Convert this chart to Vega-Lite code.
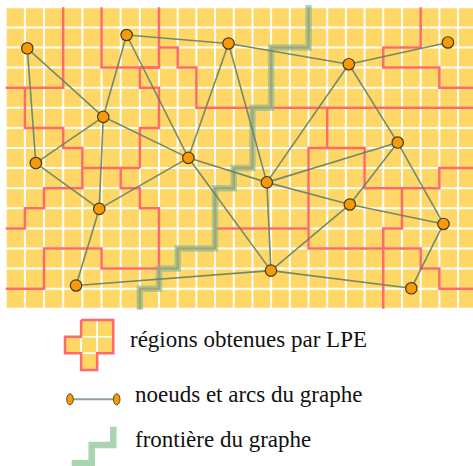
{
  "$schema": "https://vega.github.io/schema/vega-lite/v6.json",
  "width": 473,
  "height": 466,
  "autosize": {"type": "none"},
  "padding": 0,
  "background": "white",
  "config": {"view": {"stroke": null}},
  "datasets": {
    "bg": [{"x": 0, "x2": 24.8, "y": 0, "y2": 15}],
    "grid": [
      {"x": 0, "x2": 0, "y": 0, "y2": 15}, {"x": 1, "x2": 1, "y": 0, "y2": 15}, {"x": 2, "x2": 2, "y": 0, "y2": 15},
      {"x": 3, "x2": 3, "y": 0, "y2": 15}, {"x": 4, "x2": 4, "y": 0, "y2": 15}, {"x": 5, "x2": 5, "y": 0, "y2": 15},
      {"x": 6, "x2": 6, "y": 0, "y2": 15}, {"x": 7, "x2": 7, "y": 0, "y2": 15}, {"x": 8, "x2": 8, "y": 0, "y2": 15},
      {"x": 9, "x2": 9, "y": 0, "y2": 15}, {"x": 10, "x2": 10, "y": 0, "y2": 15}, {"x": 11, "x2": 11, "y": 0, "y2": 15},
      {"x": 12, "x2": 12, "y": 0, "y2": 15}, {"x": 13, "x2": 13, "y": 0, "y2": 15}, {"x": 14, "x2": 14, "y": 0, "y2": 15},
      {"x": 15, "x2": 15, "y": 0, "y2": 15}, {"x": 16, "x2": 16, "y": 0, "y2": 15}, {"x": 17, "x2": 17, "y": 0, "y2": 15},
      {"x": 18, "x2": 18, "y": 0, "y2": 15}, {"x": 19, "x2": 19, "y": 0, "y2": 15}, {"x": 20, "x2": 20, "y": 0, "y2": 15},
      {"x": 21, "x2": 21, "y": 0, "y2": 15}, {"x": 22, "x2": 22, "y": 0, "y2": 15}, {"x": 23, "x2": 23, "y": 0, "y2": 15},
      {"x": 24, "x2": 24, "y": 0, "y2": 15},
      {"x": 0, "x2": 24.8, "y": 0, "y2": 0}, {"x": 0, "x2": 24.8, "y": 1, "y2": 1}, {"x": 0, "x2": 24.8, "y": 2, "y2": 2},
      {"x": 0, "x2": 24.8, "y": 3, "y2": 3}, {"x": 0, "x2": 24.8, "y": 4, "y2": 4}, {"x": 0, "x2": 24.8, "y": 5, "y2": 5},
      {"x": 0, "x2": 24.8, "y": 6, "y2": 6}, {"x": 0, "x2": 24.8, "y": 7, "y2": 7}, {"x": 0, "x2": 24.8, "y": 8, "y2": 8},
      {"x": 0, "x2": 24.8, "y": 9, "y2": 9}, {"x": 0, "x2": 24.8, "y": 10, "y2": 10}, {"x": 0, "x2": 24.8, "y": 11, "y2": 11},
      {"x": 0, "x2": 24.8, "y": 12, "y2": 12}, {"x": 0, "x2": 24.8, "y": 13, "y2": 13}, {"x": 0, "x2": 24.8, "y": 14, "y2": 14},
      {"x": 0, "x2": 24.8, "y": 15, "y2": 15}
    ],
    "lcells": [
      {"x": 3.933, "x2": 4.774, "y": 15.557, "y2": 16.388},
      {"x": 4.774, "x2": 5.614, "y": 15.557, "y2": 16.388},
      {"x": 3.093, "x2": 3.933, "y": 16.388, "y2": 17.214},
      {"x": 3.933, "x2": 4.774, "y": 16.388, "y2": 17.214},
      {"x": 4.774, "x2": 5.614, "y": 16.388, "y2": 17.214},
      {"x": 3.933, "x2": 4.774, "y": 17.214, "y2": 18.045}
    ],
    "red": [
      {"id": "p1", "o": 0, "x": 0, "y": 4}, {"id": "p1", "o": 1, "x": 3, "y": 4}, {"id": "p1", "o": 2, "x": 3, "y": 0},
      {"id": "p2", "o": 0, "x": 1, "y": 4}, {"id": "p2", "o": 1, "x": 1, "y": 6}, {"id": "p2", "o": 2, "x": 3, "y": 6},
      {"id": "p2", "o": 3, "x": 3, "y": 7}, {"id": "p2", "o": 4, "x": 4, "y": 7}, {"id": "p2", "o": 5, "x": 4, "y": 9},
      {"id": "p2", "o": 6, "x": 2, "y": 9}, {"id": "p2", "o": 7, "x": 2, "y": 10}, {"id": "p2", "o": 8, "x": 1, "y": 10},
      {"id": "p2", "o": 9, "x": 1, "y": 11}, {"id": "p2", "o": 10, "x": 0, "y": 11},
      {"id": "p3", "o": 0, "x": 4, "y": 8}, {"id": "p3", "o": 1, "x": 7, "y": 8},
      {"id": "p4", "o": 0, "x": 5, "y": 0}, {"id": "p4", "o": 1, "x": 5, "y": 3}, {"id": "p4", "o": 2, "x": 8, "y": 3},
      {"id": "p5", "o": 0, "x": 8, "y": 0}, {"id": "p5", "o": 1, "x": 8, "y": 2}, {"id": "p5", "o": 2, "x": 9, "y": 2},
      {"id": "p5", "o": 3, "x": 9, "y": 3}, {"id": "p5", "o": 4, "x": 10, "y": 3}, {"id": "p5", "o": 5, "x": 10, "y": 5},
      {"id": "p5", "o": 6, "x": 24.8, "y": 5},
      {"id": "p6", "o": 0, "x": 8, "y": 2}, {"id": "p6", "o": 1, "x": 8, "y": 3}, {"id": "p6", "o": 2, "x": 7, "y": 3},
      {"id": "p6", "o": 3, "x": 7, "y": 4}, {"id": "p6", "o": 4, "x": 8, "y": 4}, {"id": "p6", "o": 5, "x": 8, "y": 6},
      {"id": "p6", "o": 6, "x": 7, "y": 6}, {"id": "p6", "o": 7, "x": 7, "y": 8},
      {"id": "p7", "o": 0, "x": 6, "y": 8}, {"id": "p7", "o": 1, "x": 6, "y": 9}, {"id": "p7", "o": 2, "x": 7, "y": 9},
      {"id": "p7", "o": 3, "x": 7, "y": 10}, {"id": "p7", "o": 4, "x": 8, "y": 10}, {"id": "p7", "o": 5, "x": 8, "y": 13},
      {"id": "p7", "o": 6, "x": 5, "y": 13}, {"id": "p7", "o": 7, "x": 5, "y": 12}, {"id": "p7", "o": 8, "x": 2, "y": 12},
      {"id": "p7", "o": 9, "x": 2, "y": 14}, {"id": "p7", "o": 10, "x": 0, "y": 14},
      {"id": "p8", "o": 0, "x": 16, "y": 0}, {"id": "p8", "o": 1, "x": 16, "y": 2}, {"id": "p8", "o": 2, "x": 14, "y": 2},
      {"id": "p8", "o": 3, "x": 14, "y": 5}, {"id": "p8", "o": 4, "x": 13, "y": 5}, {"id": "p8", "o": 5, "x": 13, "y": 8},
      {"id": "p8", "o": 6, "x": 12, "y": 8}, {"id": "p8", "o": 7, "x": 12, "y": 9}, {"id": "p8", "o": 8, "x": 11, "y": 9},
      {"id": "p8", "o": 9, "x": 11, "y": 12}, {"id": "p8", "o": 10, "x": 9, "y": 12}, {"id": "p8", "o": 11, "x": 9, "y": 13},
      {"id": "p8", "o": 12, "x": 8, "y": 13}, {"id": "p8", "o": 13, "x": 8, "y": 14}, {"id": "p8", "o": 14, "x": 7, "y": 14},
      {"id": "p8", "o": 15, "x": 7, "y": 15},
      {"id": "p9", "o": 0, "x": 11, "y": 11}, {"id": "p9", "o": 1, "x": 16, "y": 11},
      {"id": "p10", "o": 0, "x": 17, "y": 5}, {"id": "p10", "o": 1, "x": 17, "y": 7}, {"id": "p10", "o": 2, "x": 16, "y": 7},
      {"id": "p10", "o": 3, "x": 16, "y": 12}, {"id": "p10", "o": 4, "x": 22, "y": 12}, {"id": "p10", "o": 5, "x": 22, "y": 13},
      {"id": "p10", "o": 6, "x": 23, "y": 13}, {"id": "p10", "o": 7, "x": 23, "y": 14}, {"id": "p10", "o": 8, "x": 24.8, "y": 14},
      {"id": "p11", "o": 0, "x": 17, "y": 7}, {"id": "p11", "o": 1, "x": 19, "y": 7}, {"id": "p11", "o": 2, "x": 19, "y": 9},
      {"id": "p11", "o": 3, "x": 23, "y": 9}, {"id": "p11", "o": 4, "x": 23, "y": 8}, {"id": "p11", "o": 5, "x": 24.8, "y": 8},
      {"id": "p12", "o": 0, "x": 21, "y": 9}, {"id": "p12", "o": 1, "x": 21, "y": 11}, {"id": "p12", "o": 2, "x": 20, "y": 11},
      {"id": "p12", "o": 3, "x": 20, "y": 15},
      {"id": "p13", "o": 0, "x": 22, "y": 0}, {"id": "p13", "o": 1, "x": 22, "y": 2}, {"id": "p13", "o": 2, "x": 20, "y": 2},
      {"id": "p13", "o": 3, "x": 20, "y": 3}, {"id": "p13", "o": 4, "x": 23, "y": 3}, {"id": "p13", "o": 5, "x": 23, "y": 4},
      {"id": "p13", "o": 6, "x": 24.8, "y": 4},
      {"id": "lg", "o": 0, "x": 3.933, "y": 15.557}, {"id": "lg", "o": 1, "x": 5.614, "y": 15.557},
      {"id": "lg", "o": 2, "x": 5.614, "y": 17.214}, {"id": "lg", "o": 3, "x": 4.774, "y": 17.214},
      {"id": "lg", "o": 4, "x": 4.774, "y": 18.045}, {"id": "lg", "o": 5, "x": 3.933, "y": 18.045},
      {"id": "lg", "o": 6, "x": 3.933, "y": 17.214}, {"id": "lg", "o": 7, "x": 3.093, "y": 17.214},
      {"id": "lg", "o": 8, "x": 3.093, "y": 16.388}, {"id": "lg", "o": 9, "x": 3.933, "y": 16.388},
      {"id": "lg", "o": 10, "x": 3.933, "y": 15.557}
    ],
    "green": [
      {"id": "f", "o": 0, "x": 16, "y": -0.12}, {"id": "f", "o": 1, "x": 16, "y": 2}, {"id": "f", "o": 2, "x": 14, "y": 2},
      {"id": "f", "o": 3, "x": 14, "y": 5}, {"id": "f", "o": 4, "x": 13, "y": 5}, {"id": "f", "o": 5, "x": 13, "y": 8},
      {"id": "f", "o": 6, "x": 12, "y": 8}, {"id": "f", "o": 7, "x": 12, "y": 9}, {"id": "f", "o": 8, "x": 11, "y": 9},
      {"id": "f", "o": 9, "x": 11, "y": 12}, {"id": "f", "o": 10, "x": 9, "y": 12}, {"id": "f", "o": 11, "x": 9, "y": 13},
      {"id": "f", "o": 12, "x": 8, "y": 13}, {"id": "f", "o": 13, "x": 8, "y": 14}, {"id": "f", "o": 14, "x": 7, "y": 14},
      {"id": "f", "o": 15, "x": 7, "y": 15.05},
      {"id": "lf", "o": 0, "x": 5.614, "y": 20.866}, {"id": "lf", "o": 1, "x": 5.614, "y": 21.776},
      {"id": "lf", "o": 2, "x": 4.487, "y": 21.776}, {"id": "lf", "o": 3, "x": 4.487, "y": 22.687},
      {"id": "lf", "o": 4, "x": 3.443, "y": 22.687}
    ],
    "nodes": [
      {"id": "N1", "x": 1.125, "y": 2.04}, {"id": "N2", "x": 6.31, "y": 1.378}, {"id": "N3", "x": 11.72, "y": 1.8},
      {"id": "N4", "x": 18.155, "y": 2.83}, {"id": "N5", "x": 23.46, "y": 1.75}, {"id": "N6", "x": 5.09, "y": 5.45},
      {"id": "N7", "x": 1.57, "y": 7.75}, {"id": "N8", "x": 9.57, "y": 7.49}, {"id": "N9", "x": 13.77, "y": 8.71},
      {"id": "N10", "x": 20.77, "y": 6.73}, {"id": "N11", "x": 4.88, "y": 10.03}, {"id": "N12", "x": 18.21, "y": 9.81},
      {"id": "N13", "x": 23.22, "y": 10.78}, {"id": "N14", "x": 13.99, "y": 13.1}, {"id": "N15", "x": 3.67, "y": 13.84},
      {"id": "N16", "x": 21.5, "y": 13.98}
    ],
    "edges": [
      {"a": "N1", "b": "N6"}, {"a": "N1", "b": "N7"}, {"a": "N2", "b": "N6"}, {"a": "N2", "b": "N8"},
      {"a": "N2", "b": "N3"}, {"a": "N3", "b": "N4"}, {"a": "N3", "b": "N8"}, {"a": "N3", "b": "N9"},
      {"a": "N4", "b": "N5"}, {"a": "N4", "b": "N9"}, {"a": "N4", "b": "N10"}, {"a": "N6", "b": "N7"},
      {"a": "N6", "b": "N8"}, {"a": "N6", "b": "N11"}, {"a": "N7", "b": "N11"}, {"a": "N8", "b": "N11"},
      {"a": "N8", "b": "N9"}, {"a": "N8", "b": "N14"}, {"a": "N9", "b": "N14"}, {"a": "N9", "b": "N10"},
      {"a": "N9", "b": "N12"}, {"a": "N10", "b": "N12"}, {"a": "N10", "b": "N13"}, {"a": "N12", "b": "N13"},
      {"a": "N12", "b": "N14"}, {"a": "N13", "b": "N16"}, {"a": "N14", "b": "N16"}, {"a": "N14", "b": "N15"},
      {"a": "N11", "b": "N15"}
    ],
    "legline": [{"o": 0, "x": 3.354, "y": 19.502}, {"o": 1, "x": 5.792, "y": 19.502}],
    "texts": [
      {"t": "régions obtenues par LPE", "x": 6.486, "y": 16.886},
      {"t": "noeuds et arcs du graphe", "x": 6.747, "y": 19.622},
      {"t": "frontière du graphe", "x": 6.747, "y": 21.891}
    ]
  },
  "encoding": {
    "x": {"field": "x", "type": "quantitative", "axis": null,
          "scale": {"domain": [-0.3, 8, 24.8], "range": [0, 159, 473], "nice": false, "zero": false}},
    "y": {"field": "y", "type": "quantitative", "axis": null,
          "scale": {"domain": [-0.363, 22.821], "reverse": true, "nice": false, "zero": false}}
  },
  "layer": [
    {"data": {"name": "bg"}, "mark": {"type": "rect", "fill": "#FFD766"},
     "encoding": {"x2": {"field": "x2"}, "y2": {"field": "y2"}}},
    {"data": {"name": "grid"}, "mark": {"type": "rule", "color": "white", "strokeWidth": 2},
     "encoding": {"x2": {"field": "x2"}, "y2": {"field": "y2"}}},
    {"data": {"name": "lcells"}, "mark": {"type": "rect", "fill": "#FFD766", "stroke": "white", "strokeWidth": 1.6},
     "encoding": {"x2": {"field": "x2"}, "y2": {"field": "y2"}}},
    {"data": {"name": "red"}, "mark": {"type": "line", "color": "#FF6A6A", "strokeWidth": 2.5, "strokeJoin": "miter"},
     "encoding": {"detail": {"field": "id"}, "order": {"field": "o", "type": "quantitative"}}},
    {"data": {"name": "green"}, "mark": {"type": "line", "color": "#7DBE8A", "opacity": 0.65, "strokeWidth": 6.5, "strokeJoin": "miter"},
     "encoding": {"detail": {"field": "id"}, "order": {"field": "o", "type": "quantitative"}}},
    {"data": {"name": "edges"},
     "transform": [
       {"lookup": "a", "from": {"data": {"name": "nodes"}, "key": "id", "fields": ["x", "y"]}, "as": ["x", "y"]},
       {"lookup": "b", "from": {"data": {"name": "nodes"}, "key": "id", "fields": ["x", "y"]}, "as": ["x2", "y2"]}
     ],
     "mark": {"type": "rule", "color": "#62826A", "strokeWidth": 1.6, "opacity": 0.9},
     "encoding": {"x2": {"field": "x2"}, "y2": {"field": "y2"}}},
    {"data": {"name": "legline"}, "mark": {"type": "line", "color": "#8FA28F", "strokeWidth": 2},
     "encoding": {"order": {"field": "o", "type": "quantitative"}}},
    {"data": {"name": "legline"},
     "mark": {"type": "point", "shape": "M0,-1A0.6,1 0 1,1 0,1A0.6,1 0 1,1 0,-1Z", "filled": true, "fill": "#F79A0A", "stroke": "#5A4A2A", "strokeWidth": 1, "size": 121, "opacity": 1}},
    {"data": {"name": "nodes"},
     "mark": {"type": "circle", "fill": "#F79A0A", "stroke": "#4A3A1A", "strokeWidth": 1.2, "size": 130, "opacity": 1}},
    {"data": {"name": "texts"},
     "mark": {"type": "text", "align": "left", "baseline": "alphabetic", "font": "Liberation Serif", "fontSize": 23, "color": "#111111"},
     "encoding": {"text": {"field": "t"}}}
  ]
}
